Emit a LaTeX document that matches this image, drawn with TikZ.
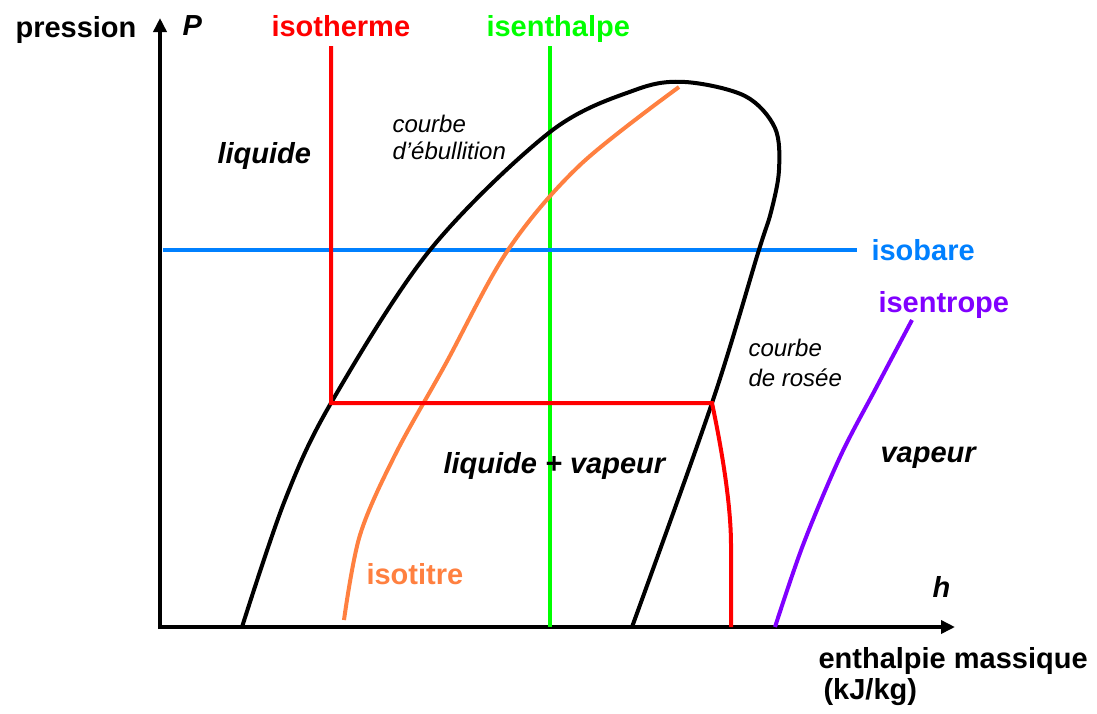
\documentclass[tikz,border=0pt]{standalone}
\usepackage{fontspec}
\setmainfont{Liberation Sans}
\usetikzlibrary{arrows.meta}
\definecolor{isotherme}{HTML}{FF0000}
\definecolor{isenthalpe}{HTML}{00FF00}
\definecolor{isobare}{HTML}{0080FF}
\definecolor{isentrope}{HTML}{8000FF}
\definecolor{isotitre}{HTML}{FF8040}

\begin{document}
\begin{tikzpicture}[x=1pt,y=-1pt,
  axe/.style={line width=4pt,-{Triangle[length=14pt,width=13pt]}},
  trait/.style={line width=4pt},
  titre/.style={anchor=base west,font=\fontsize{29}{34}\selectfont\bfseries},
  zone/.style={anchor=base west,font=\fontsize{29}{34}\selectfont\bfseries\itshape},
  note/.style={anchor=base west,font=\fontsize{24}{29}\selectfont\itshape}]
  \useasboundingbox (0,0) rectangle (1097,713);
  \def\xO{160}
  \def\yO{627}
  \def\yS{403}
  \coordinate (O) at (\xO,\yO);
  \coordinate (Ptip) at (\xO,18);
  \coordinate (htip) at (955,\yO);
  % axes
  \draw[axe] ([yshift=-2pt]O) -- (Ptip);
  \draw[axe] ([xshift=-2pt]O) -- (htip);
  \node[titre] (pression) at (12,37) {pression};
  \node[zone] (P) at (179,35) {P};
  \node[zone] (h) at (929,597) {h};
  \node[titre] (enthalpie) at (815,668) {enthalpie massique};
  \node[titre] (unite) at (820,699) {(kJ/kg)};
  % isenthalpe et isobare
  \coordinate (Hhaut) at (550,46);
  \coordinate (Hbas) at (550,\yO);
  \draw[trait,isenthalpe] (Hhaut) -- (Hbas);
  \node[titre,isenthalpe] (lisenthalpe) at (483,36) {isenthalpe};
  \coordinate (Bg) at (163,250);
  \coordinate (Bd) at (857,250);
  \draw[trait,isobare] (Bg) -- (Bd);
  \node[titre,isobare] (lisobare) at (868,260) {isobare};
  % courbe de saturation
  \draw[trait,black] plot[smooth,tension=0.55] coordinates {
    (242,627) (285,500) (331,\yS) (430,250) (550,132) (635,90) (685,82)
    (745,96) (775,128) (779,170) (771,212) (758,253) (712,\yS) (632,627)};
  % isotitre
  \draw[trait,isotitre] plot[smooth,tension=0.55] coordinates {
    (344,620) (360,535) (395,455) (445,365) (508,250) (580,165) (679,87)};
  \node[titre,isotitre] (lisotitre) at (363,584) {isotitre};
  % isotherme
  \draw[trait,isotherme,line join=miter] (331,46) -- (331,\yS) -- (712,\yS)
    .. controls (724,460) and (731,510) .. (731,545) -- (731,\yO);
  \node[titre,isotherme] (lisotherme) at (268,36) {isotherme};
  % isentrope
  \draw[trait,isentrope] plot[smooth,tension=0.55] coordinates {
    (775,627) (803,545) (840,457) (876,388) (912,320)};
  \node[titre,isentrope] (lisentrope) at (875,312) {isentrope};
  % zones
  \node[zone] (liquide) at (214,163) {liquide};
  \node[zone] (melange) at (440,473) {liquide + vapeur};
  \node[zone] (vapeur) at (877,462) {vapeur};
  \node[note] (ebu1) at (389,132) {courbe};
  \node[note] (ebu2) at (389,159) {d'ébullition};
  \node[note] (ros1) at (745,356) {courbe};
  \node[note] (ros2) at (745,386) {de rosée};
\end{tikzpicture}
\end{document}
